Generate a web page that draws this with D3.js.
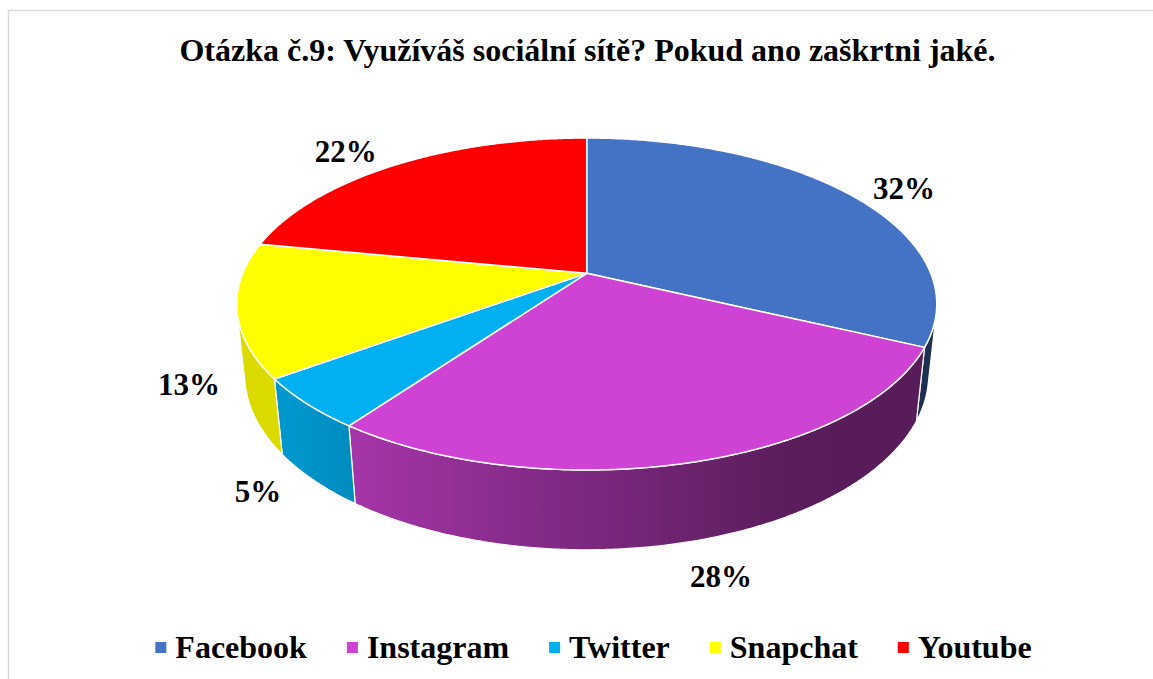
<!DOCTYPE html>
<html>
<head>
<meta charset="utf-8">
<script src="https://cdn.jsdelivr.net/npm/d3@7"></script>
<style>
  body { margin: 0; background: #fff; }
  svg { display: block; }
  text { font-family: "Liberation Serif", "Times New Roman", serif; font-weight: bold; fill: #000; }
</style>
</head>
<body>
<svg id="chart" width="1153" height="679"></svg>
<script>
var title = "Otázka č.9: Využíváš sociální sítě? Pokud ano zaškrtni jaké.";
var categories = ["Facebook", "Instagram", "Twitter", "Snapchat", "Youtube"];
var values = [32, 28, 5, 13, 22];
var colors = ["#4472C4", "#CF43D4", "#00B0F0", "#FFFF00", "#FF0000"];
// label nudges (px) from the slice's edge point, like excel's best fit
var labelNudge = [[53, -7], [33, 34], [-56, 11], [-56, 3], [-49, -14]];

var W = 1153, H = 679;
var svg = d3.select("#chart");

// frame
svg.append("rect")
	.attr("x", 8.5).attr("y", 10.5)
	.attr("width", 1160).attr("height", 690)
	.attr("fill", "none")
	.attr("stroke", "#d9d9d9")
	.attr("stroke-width", 1.5);

svg.append("text")
	.attr("x", 587.5).attr("y", 61)
	.attr("text-anchor", "middle")
	.style("font-size", "32px")
	.text(title);

// simple perspective camera for the 3d pie
var cx = 586.7, cy = 273.3;
var focal = 1646, R = 0.209, thick = 0.049;
var sinP = 0.466, cosP = Math.sqrt(1 - sinP * sinP);

function project(theta, r, y){
	var x = r * R * Math.sin(theta), z = r * R * Math.cos(theta);
	var depth = 1 - y * sinP + z * cosP;
	var up = y * cosP + z * sinP;
	return [cx + focal * x / depth, cy - focal * up / depth];
}

function shade(theta){
	var s = Math.sin(theta);
	return Math.max(0.42, Math.min(0.86, 0.6 - 0.34 * s));
}

var arcs = d3.pie().sort(null).value(function(d){ return d; })(values);

var thMin = Math.acos(-R / cosP), thMax = 2 * Math.PI - thMin;
var step = Math.PI / 360;
var defs = svg.append("defs");
var line = d3.line();

// side walls (only the part facing the camera)
var walls = svg.append("g");
arcs.forEach(function(a, i){
	var a0 = Math.max(a.startAngle, thMin), a1 = Math.min(a.endAngle, thMax);
	if(a0 >= a1) return;
	var n = Math.max(2, Math.ceil((a1 - a0) / step));
	var top = [], bot = [], stops = [];
	for(var k = 0; k <= n; k++){
		var t = a0 + (a1 - a0) * k / n;
		top.push(project(t, 1, 0));
		bot.push(project(t, 1, -thick));
	}
	var xs = top.map(function(p){ return p[0]; });
	var xLo = d3.min(xs), xHi = d3.max(xs);
	var base = d3.rgb(colors[i]);
	var grad = defs.append("linearGradient")
		.attr("id", "wall" + i)
		.attr("gradientUnits", "userSpaceOnUse")
		.attr("x1", xLo).attr("x2", xHi).attr("y1", 0).attr("y2", 0);
	for(var m = 0; m <= 8; m++){
		var tt = a1 - (a1 - a0) * m / 8;
		var p = project(tt, 1, 0);
		var fct = shade(tt);
		stops.push({off: xHi > xLo ? (p[0] - xLo) / (xHi - xLo) : 0,
			col: d3.rgb(base.r * fct, base.g * fct, base.b * fct).toString()});
	}
	stops.sort(function(u, v){ return u.off - v.off; });
	grad.selectAll("stop").data(stops).enter().append("stop")
		.attr("offset", function(d){ return d.off; })
		.attr("stop-color", function(d){ return d.col; });
	walls.append("path")
		.attr("d", line(top.concat(bot.reverse())) + "Z")
		.attr("fill", "url(#wall" + i + ")")
		.attr("stroke", "#fff")
		.attr("stroke-width", 1.2)
		.attr("stroke-linejoin", "round");
});

// top faces
svg.append("g").selectAll("path.slice")
	.data(arcs)
	.enter()
	.append("path")
	.classed("slice", true)
	.attr("d", function(a){
		var pts = [project(0, 0, 0)];
		var n = Math.max(2, Math.ceil((a.endAngle - a.startAngle) / step));
		for(var k = 0; k <= n; k++){
			pts.push(project(a.startAngle + (a.endAngle - a.startAngle) * k / n, 1, 0));
		}
		return line(pts) + "Z";
	})
	.attr("fill", function(a, i){ return colors[i]; })
	.attr("stroke", "#fff")
	.attr("stroke-width", 1.5)
	.attr("stroke-linejoin", "round");

// data labels
svg.append("g").selectAll("text.lbl")
	.data(arcs)
	.enter()
	.append("text")
	.classed("lbl", true)
	.attr("text-anchor", "middle")
	.attr("dy", "0.35em")
	.style("font-size", "31px")
	.attr("transform", function(a, i){
		var mid = (a.startAngle + a.endAngle) / 2;
		var p = Math.cos(mid) < 0 ? project(mid, 1, -thick) : project(mid, 1, 0);
		return "translate(" + (p[0] + labelNudge[i][0]) + "," + (p[1] + labelNudge[i][1]) + ")";
	})
	.text(function(a){ return a.value + "%"; });

// legend
var legend = svg.append("g");
var items = legend.selectAll("g.item")
	.data(categories)
	.enter()
	.append("g")
	.classed("item", true);
items.append("rect")
	.attr("width", 11).attr("height", 11)
	.attr("y", 642)
	.attr("fill", function(d, i){ return colors[i]; });
items.append("text")
	.attr("x", 20).attr("y", 658)
	.style("font-size", "32px")
	.text(function(d){ return d; });

var widths = [];
items.each(function(){
	widths.push(20 + d3.select(this).select("text").node().getComputedTextLength());
});
var gap = 40;
var total = d3.sum(widths) + gap * (widths.length - 1);
var xPos = 593.5 - total / 2;
items.attr("transform", function(d, i){
	var x = xPos;
	xPos += widths[i] + gap;
	return "translate(" + x + ",0)";
});
</script>
</body>
</html>
